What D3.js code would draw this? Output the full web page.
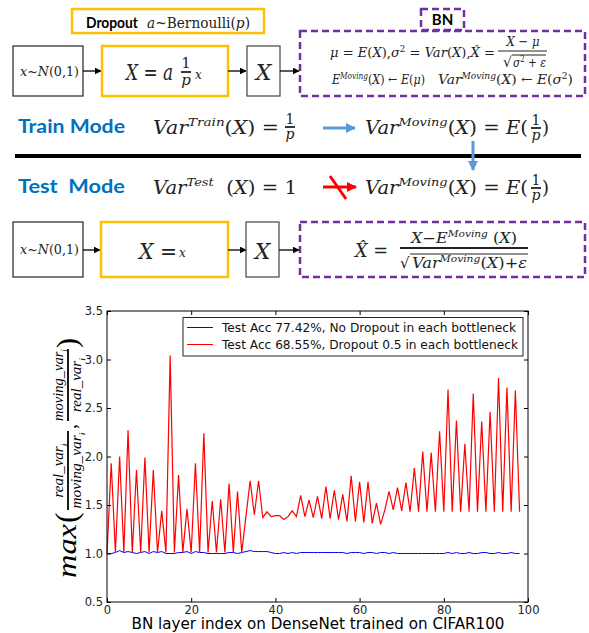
<!DOCTYPE html>
<html>
<head>
<meta charset="utf-8">
<script src="https://cdn.jsdelivr.net/npm/d3@7"></script>
<style>
  body { margin: 0; background: #fff; }
  svg { display: block; }
</style>
</head>
<body>
<svg id="fig" width="589" height="633"></svg>
<script>
// ---- chart data ----
const seriesNames = [
    'Test Acc 77.42%, No Dropout in each bottleneck',
    'Test Acc 68.55%, Dropout 0.5 in each bottleneck'
];
// ratio per BN layer, no dropout
const noDropout = [
    1.00, 1.00, 1.01, 1.03, 1.01, 1.02, 1.01, 1.00, 1.01, 1.02,
    1.00, 1.02, 1.01, 1.02, 1.00, 1.00, 1.00, 1.01, 1.01, 1.02,
    1.00, 1.02, 1.01, 1.01, 1.00, 1.00, 1.00, 1.00, 1.00, 1.01,
    1.01, 1.00, 1.01, 1.02, 1.03, 1.02, 1.02, 1.02, 1.02, 1.01,
    1.00, 1.00, 1.01, 1.00, 1.01, 1.00, 1.01, 1.01, 1.01, 1.01,
    1.01, 1.01, 1.01, 1.01, 1.01, 1.01, 1.01, 1.00, 1.01, 1.01,
    1.01, 1.00, 1.01, 1.01, 1.00, 1.01, 1.01, 1.00, 1.01, 1.00,
    1.00, 1.00, 1.00, 1.00, 1.00, 1.00, 1.00, 1.00, 1.00, 1.00,
    1.00, 1.01, 1.00, 1.01, 1.00, 1.00, 1.01, 1.00, 1.00, 1.01,
    1.01, 1.00, 1.00, 1.01, 1.00, 1.00, 1.01, 1.00, 1.00
];
// ratio per BN layer, dropout 0.5
const withDropout = [
    1.00, 1.93, 1.01, 2.00, 1.01, 2.27, 1.01, 1.86, 1.01, 1.99,
    1.01, 1.86, 1.01, 1.44, 1.01, 3.04, 1.01, 1.81, 1.01, 1.46,
    1.01, 1.93, 1.01, 2.24, 1.01, 1.54, 1.01, 1.56, 1.01, 1.72,
    1.01, 1.64, 1.01, 1.38, 1.75, 1.40, 1.75, 1.37, 1.43, 1.38,
    1.39, 1.39, 1.35, 1.38, 1.44, 1.38, 1.60, 1.38, 1.55, 1.37,
    1.59, 1.36, 1.69, 1.36, 1.65, 1.35, 1.61, 1.33, 1.80, 1.33,
    1.74, 1.32, 1.74, 1.31, 1.52, 1.30, 1.45, 1.64, 1.45, 1.68,
    1.44, 1.73, 1.43, 1.88, 1.43, 2.05, 1.43, 2.04, 1.43, 2.26,
    1.43, 2.69, 1.43, 2.37, 1.43, 2.13, 1.43, 2.65, 1.43, 2.36,
    1.43, 2.46, 1.43, 2.81, 1.43, 2.71, 1.43, 2.68, 1.43
];
const xTicks = [0, 20, 40, 60, 80, 100];
const yTicks = [0.5, 1.0, 1.5, 2.0, 2.5, 3.0, 3.5];
const xLabel = 'BN layer index on DenseNet trained on CIFAR100';

const MATH = '"DejaVu Serif", "Liberation Serif", serif';
const TEXMATH = '"Liberation Serif", serif';
const SANS = 'Lato, "Open Sans", sans-serif';
const ORANGE = '#FFC000', PURPLE = '#7030A0', BLUE_TXT = '#0070C0', BLUE_ARR = '#5B9BD5';
const NB = '\u00A0';

const svg = d3.select('#fig');
svg.append('rect').attr('width', 589).attr('height', 633).attr('fill', '#fff');

const defs = svg.append('defs');
function marker(id, color, w, h) {
    defs.append('marker')
        .attr('id', id).attr('viewBox', '0 0 10 10')
        .attr('refX', 9).attr('refY', 5)
        .attr('markerUnits', 'userSpaceOnUse')
        .attr('markerWidth', w).attr('markerHeight', h)
        .attr('orient', 'auto')
        .append('path').attr('d', 'M0,0L10,5L0,10z').attr('fill', color);
}
marker('arrBlack', '#000', 7, 7);
marker('arrBlue', BLUE_ARR, 10, 10);
marker('arrRed', '#FF0000', 10, 10);

// ---- small helpers for the diagram ----
// segments: [text, italic?, 'sup'|'sub']
// sup/sub use dy so the whole text stays one chunk (anchor + textLength work)
function mtext(g, x, y, size, segs, o = {}) {
    const t = g.append('text')
        .attr('x', x).attr('y', y)
        .attr('font-family', o.family || MATH)
        .attr('font-size', size)
        .attr('fill', o.fill || '#222')
        .attr('text-anchor', o.anchor || 'start');
    let off = 0;
    segs.forEach(s => {
        const sp = t.append('tspan').text(s[0]);
        if (s[1]) sp.attr('font-style', 'italic');
        let target = 0;
        if (s[2] === 'sup') { target = -size * 0.42; sp.attr('font-size', size * 0.66); }
        if (s[2] === 'sub') { target = size * 0.25; sp.attr('font-size', size * 0.66); }
        if (target !== off) sp.attr('dy', target - off);
        off = target;
    });
    if (o.len) t.attr('textLength', o.len).attr('lengthAdjust', 'spacingAndGlyphs');
    return t;
}
function box(g, x0, y0, x1, y1, color, w, dash) {
    g.append('rect').attr('x', x0).attr('y', y0)
        .attr('width', x1 - x0).attr('height', y1 - y0)
        .attr('fill', 'none').attr('stroke', color).attr('stroke-width', w)
        .attr('stroke-dasharray', dash || null);
}
function arrow(g, x0, y0, x1, y1, color, w, m) {
    g.append('line').attr('x1', x0).attr('y1', y0).attr('x2', x1).attr('y2', y1)
        .attr('stroke', color).attr('stroke-width', w)
        .attr('marker-end', `url(#${m})`);
}
function hline(g, x0, x1, yy, w, color) {
    g.append('line').attr('x1', x0).attr('x2', x1).attr('y1', yy).attr('y2', yy)
        .attr('stroke', color || '#222').attr('stroke-width', w);
}
function frac(g, cx, yBar, half, size, num, den, o = {}) {
    mtext(g, cx, yBar - size * 0.25, size, num, { anchor: 'middle', len: o.numLen });
    hline(g, cx - half, cx + half, yBar, o.w || 1.3);
    mtext(g, cx, yBar + size * 0.85, size, den, { anchor: 'middle', len: o.denLen });
}

const dia = svg.append('g').attr('class', 'diagram');

// top row: training path
box(dia, 72, 9, 264, 33, ORANGE, 2.5);
mtext(dia, 86, 27.5, 16, [['Dropout']], { family: SANS, len: 52 }).attr('font-weight', 'bold').attr('fill', '#000');
mtext(dia, 147, 28, 14, [['a', 1], ['~Bernoulli('], ['p', 1], [')']], { len: 103 });

box(dia, 13, 46, 83, 96, '#222', 1.2);
mtext(dia, 20, 76, 12, [['x', 1], ['~'], ['N', 1], ['(0,1)']], { len: 59 });
arrow(dia, 83, 71, 101, 71, '#000', 1.3, 'arrBlack');

box(dia, 102, 46, 228, 96, ORANGE, 2.5);
mtext(dia, 126, 80, 22, [['X', 1], [' = '], ['a', 1]], { len: 47 });
frac(dia, 186, 72, 5, 15, [['1']], [['p', 1]], { w: 1.8 });
mtext(dia, 195, 79, 12, [['x', 1]]);
arrow(dia, 228, 71, 246, 71, '#000', 1.3, 'arrBlack');

box(dia, 247, 46, 280, 96, '#444', 1.2);
mtext(dia, 263.5, 80, 22, [['X', 1]], { anchor: 'middle' });
arrow(dia, 280, 71, 299, 71, '#000', 1.3, 'arrBlack');

box(dia, 421, 9, 464, 30, PURPLE, 2.5, '7,4');
mtext(dia, 442.5, 25, 15, [['BN']], { family: SANS, anchor: 'middle' }).attr('font-weight', 'bold').attr('fill', '#000');

box(dia, 300, 31, 585, 96, PURPLE, 2.5, '7,4');
mtext(dia, 330, 57, 13, [
    ['μ', 1], [' = '], ['E', 1], ['('], ['X', 1], ['),'], ['σ', 1], ['2', 0, 'sup'], [' = '],
    ['Var', 1], ['('], ['X', 1], ['),'], ['X\u0302', 1], [' =']
], { len: 165 });
mtext(dia, 523, 46, 13, [['X', 1], [' − '], ['μ', 1]], { anchor: 'middle', len: 33 });
hline(dia, 498, 547, 51, 1.2);
mtext(dia, 503, 67, 14, [['√']]);
hline(dia, 512, 546, 55, 1);
mtext(dia, 513, 67, 13, [['σ', 1], ['2', 0, 'sup'], [' + '], ['ε', 1]], { len: 33 });
mtext(dia, 332, 84, 13, [['E', 1], ['Moving', 1, 'sup'], ['('], ['X', 1], [') ← '], ['E', 1], ['('], ['μ', 1], [')']], { len: 93 });
mtext(dia, 438, 84, 13, [['Var', 1], ['Moving', 1, 'sup'], ['('], ['X', 1], [') ← '], ['E', 1], ['('], ['σ', 1], ['2', 0, 'sup'], [')']], { len: 135 });

// middle: train / test modes
mtext(dia, 18, 133, 19, [['Train Mode']], { family: SANS, fill: BLUE_TXT, len: 107 }).attr('font-weight', 'bold');
mtext(dia, 18, 193, 19, [['Test' + NB + ' Mode']], { family: SANS, fill: BLUE_TXT, len: 107 }).attr('font-weight', 'bold');

function varMoving(yb) {
    mtext(dia, 365, yb, 18, [['Var', 1], ['Moving', 1, 'sup'], ['('], ['X', 1], [') = '], ['E', 1], ['(']], { len: 163 });
    frac(dia, 536, yb - 6, 5, 14, [['1']], [['p', 1]], { w: 1.8 });
    mtext(dia, 542, yb, 18, [[')']]);
}
mtext(dia, 153, 134, 18, [['Var', 1], ['Train', 1, 'sup'], ['('], ['X', 1], [') =']], { len: 126 });
frac(dia, 290, 127, 5, 14, [['1']], [['p', 1]], { w: 1.8 });
arrow(dia, 323, 128, 355, 128, BLUE_ARR, 3, 'arrBlue');
varMoving(134);

hline(dia, 15, 581, 156, 4, '#000');
arrow(dia, 473, 141, 473, 170, BLUE_ARR, 3, 'arrBlue');

mtext(dia, 153, 194, 18, [['Var', 1], ['Test', 1, 'sup'], [NB + NB + '('], ['X', 1], [') = 1']], { len: 144 });
arrow(dia, 323, 187, 356, 187, '#FF0000', 3, 'arrRed');
dia.append('line').attr('x1', 330).attr('y1', 176).attr('x2', 346).attr('y2', 199)
    .attr('stroke', '#FF0000').attr('stroke-width', 3);
varMoving(194);

// bottom row: test path
box(dia, 13, 222, 83, 277, '#222', 1.2);
mtext(dia, 20, 254, 12, [['x', 1], ['~'], ['N', 1], ['(0,1)']], { len: 59 });
arrow(dia, 83, 250, 100, 250, '#000', 1.3, 'arrBlack');

box(dia, 101, 222, 228, 277, ORANGE, 2.5);
mtext(dia, 139, 259, 22, [['X', 1], [' = ']], { len: 38 });
mtext(dia, 179, 257, 12, [['x', 1]]);
arrow(dia, 228, 250, 246, 250, '#000', 1.3, 'arrBlack');

box(dia, 246, 222, 279, 277, '#444', 1.2);
mtext(dia, 262.5, 259, 22, [['X', 1]], { anchor: 'middle' });
arrow(dia, 279, 250, 299, 250, '#000', 1.3, 'arrBlack');

box(dia, 300, 222, 585, 277, PURPLE, 2.5, '7,4');
mtext(dia, 355, 257, 18, [['X\u0302', 1], [' =']], { len: 33 });
mtext(dia, 411, 243, 14, [['X', 1], ['−'], ['E', 1], ['Moving', 1, 'sup'], [' ('], ['X', 1], [')']], { len: 106 });
hline(dia, 400, 528, 248, 1.8);
mtext(dia, 400, 268, 15, [['√']]);
hline(dia, 410, 528, 254, 1);
mtext(dia, 412, 268, 14, [['Var', 1], ['Moving', 1, 'sup'], ['('], ['X', 1], [')+'], ['ε', 1]], { len: 115 });

// ---- line chart ----
const x = d3.scaleLinear().domain([0, 100]).range([107, 528]);
const y = d3.scaleLinear().domain([0.5, 3.5]).range([602, 311]);
const chart = svg.append('g').attr('class', 'chart');

const line = d3.line().x((d, i) => x(i)).y(d => y(d));
chart.append('path').datum(noDropout)
    .attr('d', line).attr('fill', 'none')
    .attr('stroke', '#0000FF').attr('stroke-width', 1);
chart.append('path').datum(withDropout)
    .attr('d', line).attr('fill', 'none')
    .attr('stroke', '#FF0000').attr('stroke-width', 1.2);

function styleAxis(g, labels) {
    g.select('.domain').remove();
    g.selectAll('.tick line').attr('stroke', '#000');
    g.selectAll('.tick text')
        .attr('font-family', '"DejaVu Sans", sans-serif')
        .attr('font-size', 11.5).attr('fill', '#222');
    if (!labels) g.selectAll('.tick text').remove();
}
chart.append('g').attr('transform', 'translate(0,602)')
    .call(d3.axisBottom(x).tickValues(xTicks).tickFormat(d3.format('d'))
        .tickSizeInner(-4).tickSizeOuter(0).tickPadding(4))
    .call(g => styleAxis(g, true));
chart.append('g').attr('transform', 'translate(0,311)')
    .call(d3.axisTop(x).tickValues(xTicks).tickSizeInner(-4).tickSizeOuter(0))
    .call(g => styleAxis(g, false));
chart.append('g').attr('transform', 'translate(107,0)')
    .call(d3.axisLeft(y).tickValues(yTicks).tickFormat(d3.format('.1f'))
        .tickSizeInner(-4).tickSizeOuter(0).tickPadding(4))
    .call(g => styleAxis(g, true));
chart.append('g').attr('transform', 'translate(528,0)')
    .call(d3.axisRight(y).tickValues(yTicks).tickSizeInner(-4).tickSizeOuter(0))
    .call(g => styleAxis(g, false));

chart.append('rect').attr('x', 107).attr('y', 311)
    .attr('width', 421).attr('height', 291)
    .attr('fill', 'none').attr('stroke', '#000').attr('stroke-width', 1);

// legend
const leg = chart.append('g');
leg.append('rect').attr('x', 183).attr('y', 317.5).attr('width', 340).attr('height', 38.5)
    .attr('fill', '#fff').attr('stroke', '#222').attr('stroke-width', 1);
[['#0000FF', 327.5], ['#FF0000', 344.5]].forEach((r, i) => {
    leg.append('line').attr('x1', 187).attr('x2', 213).attr('y1', r[1]).attr('y2', r[1])
        .attr('stroke', r[0]).attr('stroke-width', 1);
    leg.append('text').attr('x', 222).attr('y', r[1] + 4.5)
        .attr('font-family', '"DejaVu Sans", sans-serif').attr('font-size', 12.5)
        .attr('fill', '#111')
        .attr('textLength', i === 0 ? 294 : 296).attr('lengthAdjust', 'spacingAndGlyphs')
        .text(seriesNames[i]);
});

// axis titles
chart.append('text').attr('x', 318).attr('y', 629)
    .attr('text-anchor', 'middle')
    .attr('font-family', '"DejaVu Sans", sans-serif').attr('font-size', 16.5)
    .attr('fill', '#000')
    .attr('textLength', 373).attr('lengthAdjust', 'spacingAndGlyphs')
    .text(xLabel);

// y title: max(real/moving, moving/real), rotated; local x runs upward
const yl = chart.append('g').attr('transform', 'translate(68,458) rotate(-90)');
function ytxt(lx, ly, size, segs, anchor, len) {
    return mtext(yl, lx, ly, size, segs, { anchor: anchor || 'start', fill: '#000', family: TEXMATH, len: len });
}
ytxt(-120, 8, 28, [['max', 1]], 'start', 54);
ytxt(-65, 9, 32, [['(']]);
hline(yl, -52, 27, 0, 1.8, '#000');
ytxt(-12.5, -5, 14, [['real_var', 1], ['i', 1, 'sub']], 'middle', 54);
ytxt(-12.5, 13, 14, [['moving_var', 1], ['i', 1, 'sub']], 'middle', 76);
ytxt(29, 8, 20, [[',']]);
hline(yl, 37, 109, 0, 1.8, '#000');
ytxt(73, -5, 14, [['moving_var', 1], ['i', 1, 'sub']], 'middle', 72);
ytxt(73, 13, 14, [['real_var', 1], ['i', 1, 'sub']], 'middle', 54);
ytxt(110, 9, 30, [[')']]);
</script>
</body>
</html>
